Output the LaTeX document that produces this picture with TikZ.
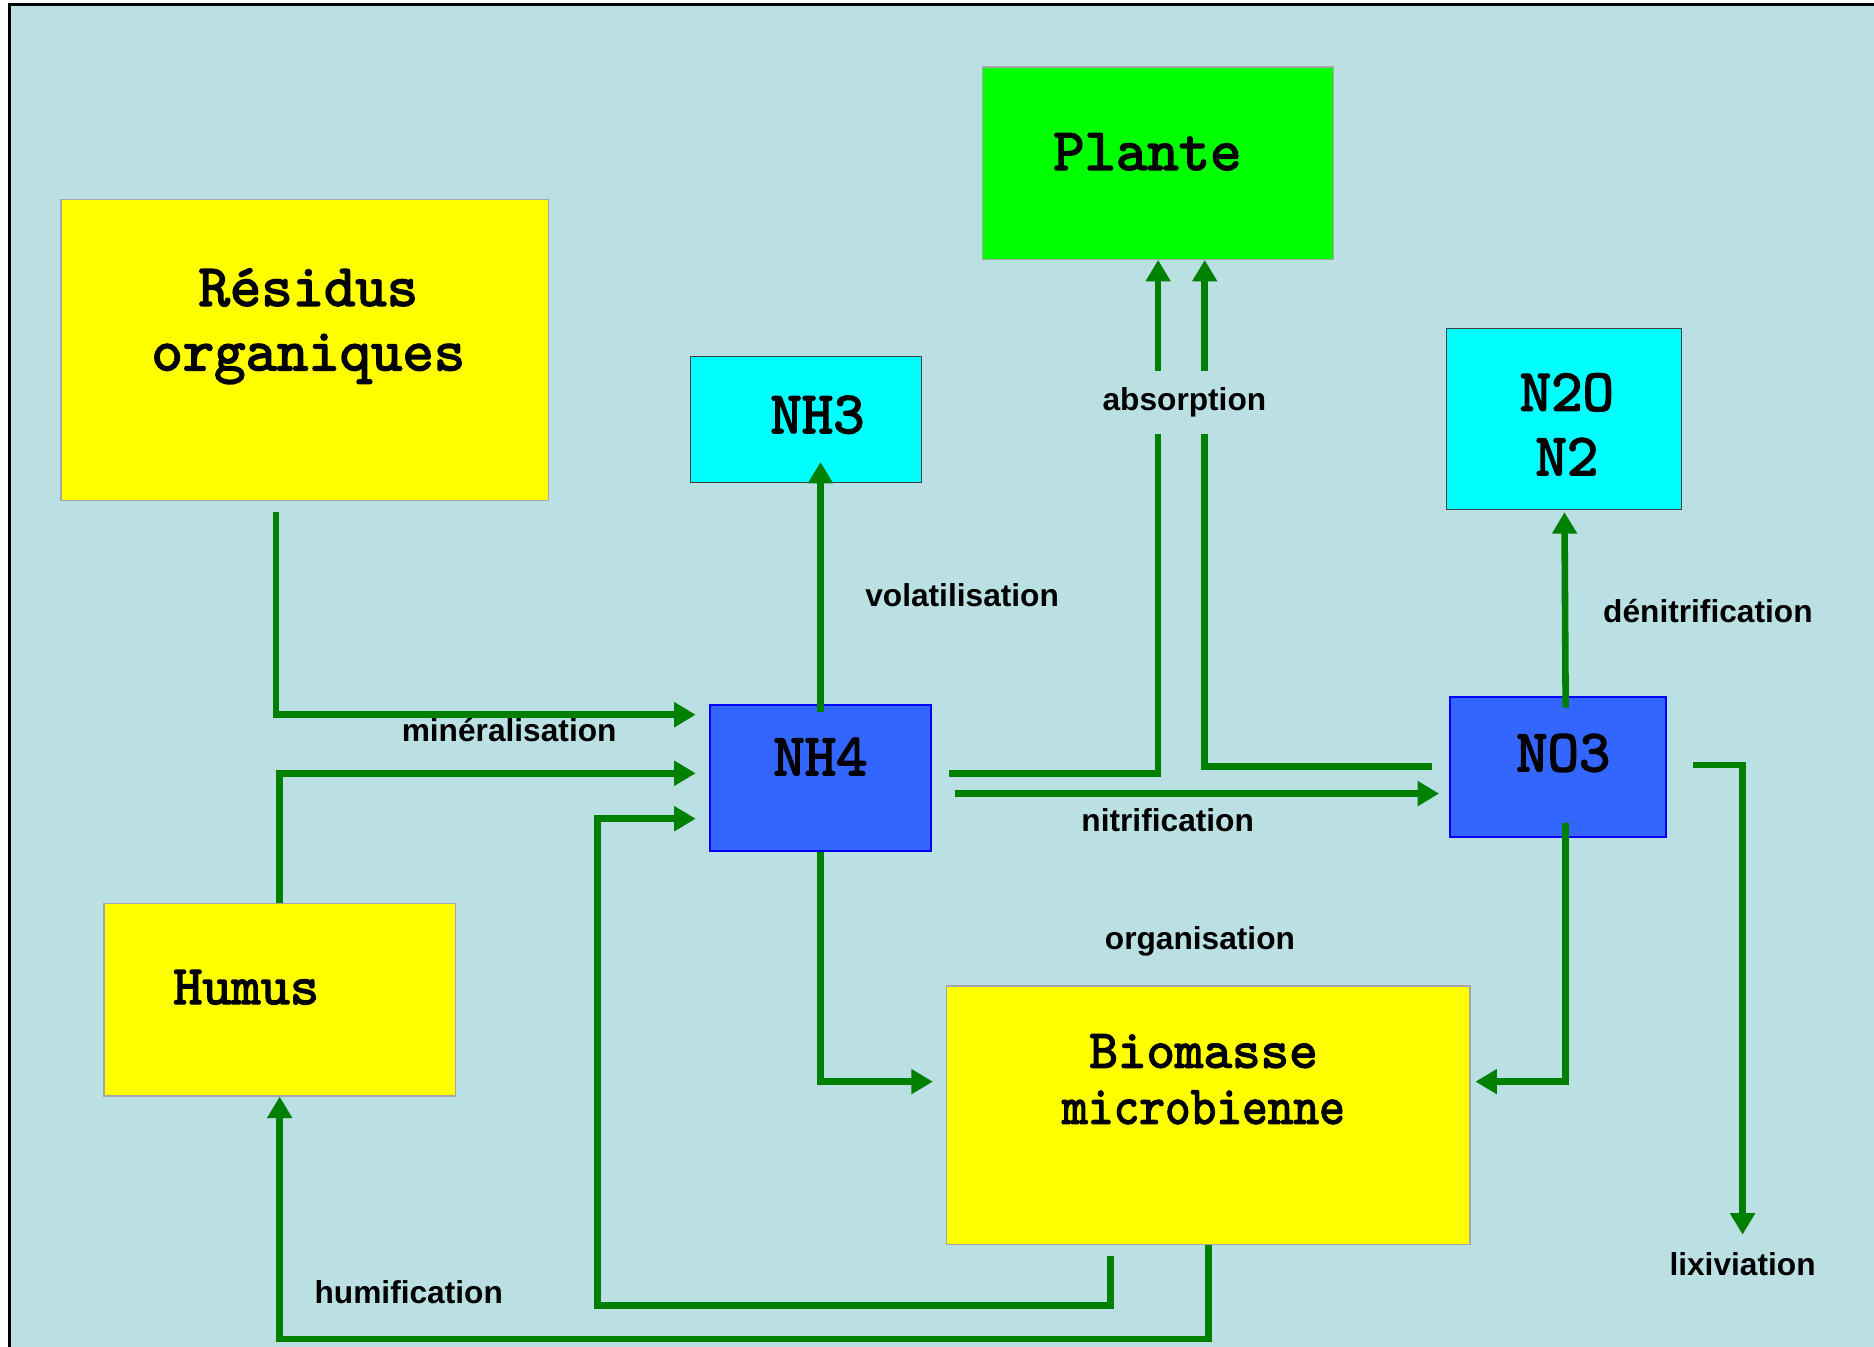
\documentclass[tikz,border=0pt]{standalone}
\usepackage{graphicx}
\usepackage{fontspec}
\setmainfont{Liberation Sans}
\newfontfamily\courierfont{lmmono10-regular.otf}[FakeBold=2.6]
\usetikzlibrary{arrows.meta,calc}
\definecolor{cBg}{HTML}{BAE0E3}
\definecolor{cFlow}{HTML}{008000}
\definecolor{cYel}{HTML}{FFFF00}
\definecolor{cPlant}{HTML}{00FF00}
\definecolor{cGas}{HTML}{00FFFF}
\definecolor{cIon}{HTML}{3366FF}
\definecolor{cIonLine}{HTML}{0000FF}
\tikzset{
  pool/.style={rectangle, draw=#1, line width=1pt, inner sep=0pt},
  stock/.style={pool=black!35, fill=cYel},
  plant/.style={pool=black!35, fill=cPlant},
  gas/.style={pool=black!75, fill=cGas},
  ion/.style={pool=cIonLine, line width=1.8pt, fill=cIon},
  boxtxt/.style={font=\courierfont\fontsize{50}{54}\selectfont,
                 align=center, inner sep=0pt},
  flow/.style={-{Triangle[length=18pt, width=20pt]}, line width=5.5pt, draw=cFlow},
  lbl/.style={font=\bfseries\fontsize{26.5}{30}\selectfont, inner sep=2pt},
}
\begin{document}
\begin{tikzpicture}[x=1pt, y=-1pt]
  \useasboundingbox (0,0) rectangle (1568,1127);
  \clip (0,0) rectangle (1568,1127);
  \fill[white] (0,0) rectangle (1568,1127);
  \draw[line width=2.5pt, fill=cBg] (8,4) rectangle (1640,1200);

  % pools
  \node[stock, minimum width=408pt, minimum height=252pt,
        label={[boxtxt, xshift=3pt, yshift=20pt]center:Résidus\\organiques}] (residus) at (255,293) {};
  \node[plant, minimum width=294pt, minimum height=161pt,
        label={[boxtxt, xshift=-9pt, yshift=9.5pt]center:Plante}] (plante) at (969,136.5) {};
  \node[gas, minimum width=193pt, minimum height=106pt,
        label={[boxtxt, xshift=9.5pt, yshift=4pt]center:NH3}] (nh3) at (674.5,351) {};
  \node[gas, minimum width=197pt, minimum height=151pt,
        label={[boxtxt, xshift=2.5pt, yshift=-4.5pt]center:N2O\\N2}] (n2o) at (1308.5,350.5) {};
  \node[ion, minimum width=185pt, minimum height=122pt,
        label={[boxtxt, yshift=18pt]center:NH4}] (nh4) at (686.5,651) {};
  \node[ion, minimum width=181pt, minimum height=117pt,
        label={[boxtxt, xshift=4.5pt, yshift=11.5pt]center:NO3}] (no3) at (1303.5,641.5) {};
  \node[stock, minimum width=294pt, minimum height=161pt,
        label={[boxtxt, font=\courierfont\fontsize{46.5}{50}\selectfont,
                xshift=-28pt, yshift=10.5pt]center:Humus}] (humus) at (234,836.5) {};
  \node[stock, minimum width=438pt, minimum height=216pt,
        label={[boxtxt, font=\courierfont\fontsize{45.5}{47}\selectfont,
                xshift=-4pt, yshift=30pt]center:Biomasse\\\scalebox{0.9}[1]{microbienne}}] (biomasse) at (1011,933) {};

  % process names
  \node[lbl] (mineral) at (426,611) {minéralisation};
  \node[lbl] (volat) at (805,498) {volatilisation};
  \node[lbl] (nitrif) at (977,686) {nitrification};
  \node[lbl] (denitrif) at (1429,511) {dénitrification};
  \node[lbl] (organis) at (1004,788) {organisation};
  \node[lbl] (humif) at (342,1081) {humification};
  \node[lbl] (lixiv) at (1458,1058) {lixiviation};

  % flows into NH4
  \draw[flow] ($(residus.south)+(-24,9)$) |- ($(nh4.west)+(-11,-53)$);
  \draw[flow] (humus.north) |- ($(nh4.west)+(-11,-4)$);
  \draw[flow] ($(biomasse.south)+(-82,9)$) -- ++(0,42) -- ++(-429,0) |- ($(nh4.west)+(-11,34)$);
  \draw[flow] (biomasse.south) -- ++(0,79) -| (humus.south);

  % from NH4 and NO3
  \draw[flow] ($(nh4.north)+(0,7)$) -- ($(nh3.south)+(12,-18)$);
  \draw[flow] ($(nh4.east)+(14,-4)$) -| (plante.south);
  \draw[flow] ($(no3.west)+(-14,0)$) -| ($(plante.south)+(39,0)$);
  \draw[flow] ($(nh4.east)+(19,13)$) -- ($(no3.west)+(-8,22.5)$);
  \draw[flow] (nh4.south) |- ($(biomasse.west)+(-11,-28)$);
  \draw[flow] ($(no3.south)+(6.5,-12)$) |- ($(biomasse.east)+(4,-28)$);
  \draw[flow] ($(no3.north)+(6.5,10)$) -- ($(n2o.south)+(0.5,2)$);
  \draw[flow] ($(no3.east)+(22,-1.5)$) -| ([yshift=13pt]lixiv.north);

  \node[lbl, fill=cBg, minimum height=53pt] (absorp) at (991,336.5) {absorption};
\end{tikzpicture}
\end{document}
